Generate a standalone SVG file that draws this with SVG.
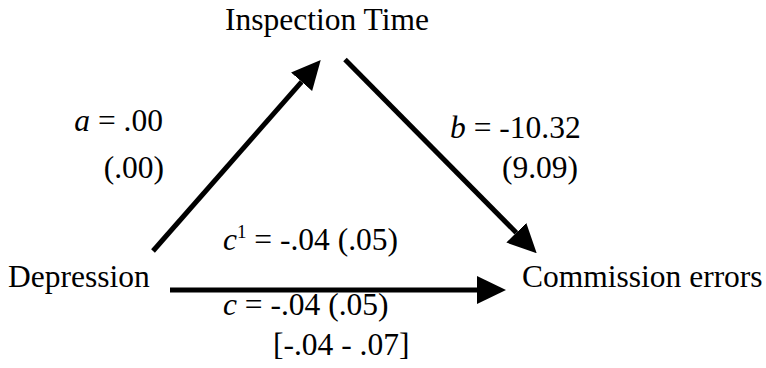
<svg xmlns="http://www.w3.org/2000/svg" width="766" height="368" viewBox="0 0 766 368">
<defs>
<style>
text{font-family:'Liberation Serif',Tinos,'Times New Roman',Times,serif;font-size:31.5px;fill:#000}
.i{font-style:italic}
.e{stroke:#000;stroke-width:5;fill:none}
</style>
<marker id="ah" markerUnits="userSpaceOnUse" markerWidth="29" markerHeight="28" refX="0" refY="14" orient="auto" viewBox="0 0 29 28">
<path d="M0,0 L29,14 L0,28 z" fill="#000"/>
</marker>
</defs>
<rect width="766" height="368" fill="#fff"/>
<g id="connectors">
<line class="e" x1="153" y1="251" x2="301.6" y2="81.8" marker-end="url(#ah)"/>
<line class="e" x1="345" y1="59.5" x2="516.3" y2="232.7" marker-end="url(#ah)"/>
<line class="e" x1="170" y1="290" x2="477" y2="290" marker-end="url(#ah)"/>
</g>
<g id="inspection"><text x="225" y="30" font-family="Liberation Serif, serif">Inspection Time</text></g>
<g id="depression"><text x="8" y="287">Depression</text></g>
<g id="commission"><text x="522" y="287">Commission errors</text></g>
<g id="label-a">
<text x="163" y="131" text-anchor="end"><tspan class="i">a</tspan> = .00</text>
<text x="164" y="178" text-anchor="end">(.00)</text>
</g>
<g id="label-b">
<text x="450" y="138"><tspan class="i">b</tspan> = -10.32</text>
<text x="502" y="178">(9.09)</text>
</g>
<g id="label-c1">
<text x="223" y="250"><tspan class="i">c</tspan><tspan font-size="19" dy="-12">1</tspan><tspan dy="12"> = -.04 (.05)</tspan></text>
</g>
<g id="label-c">
<text x="223" y="315"><tspan class="i">c</tspan> = -.04 (.05)</text>
<text x="273" y="355">[-.04 - .07]</text>
</g>
</svg>
